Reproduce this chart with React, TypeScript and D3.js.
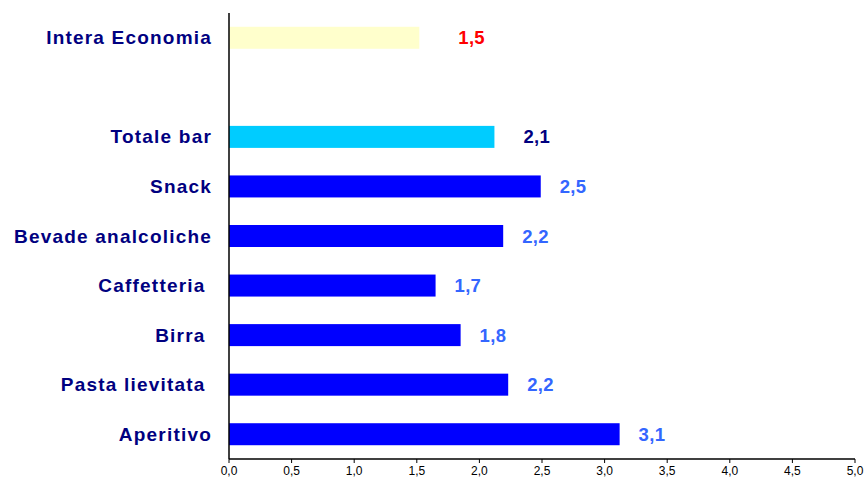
import React from "react";
import * as d3 from "d3";

// Categories top to bottom; the empty slot is the gap under "Intera Economia"
const categories = [
  "Intera Economia",
  "",
  "Totale bar",
  "Snack",
  "Bevade analcoliche",
  "Caffetteria ",
  "Birra ",
  "Pasta lievitata ",
  "Aperitivo",
];

// Bar lengths (same order, null for the gap)
const values = [1.52, null, 2.12, 2.49, 2.19, 1.65, 1.85, 2.23, 3.12];

// Data labels as printed on the chart
const valueLabels = ["1,5", "", "2,1", "2,5", "2,2", "1,7", "1,8", "2,2", "3,1"];

// Bar kind: economy, total, item
const kinds = ["economy", "", "total", "item", "item", "item", "item", "item", "item"];

const xTicks = [0, 0.5, 1, 1.5, 2, 2.5, 3, 3.5, 4, 4.5, 5];

const barFill: Record<string, string> = {
  economy: "#FFFFCC",
  total: "#00CCFF",
  item: "#0000FF",
};

const labelFill: Record<string, string> = {
  economy: "#FF0000",
  total: "#000080",
  item: "#3366FF",
};

// the data labels were nudged by hand in the original, a bit more for the top two
const labelGap: Record<string, number> = {
  economy: 39,
  total: 29,
  item: 19,
};

export default function App() {
  const width = 867;
  const height = 484;
  const margin = { top: 13, right: 12, bottom: 25, left: 229 };

  const x = d3
    .scaleLinear()
    .domain([0, 5])
    .range([margin.left, width - margin.right]);

  const y = d3
    .scaleBand()
    .domain(categories.map((c, i) => String(i)))
    .range([margin.top, height - margin.bottom])
    .paddingInner(0.556)
    .paddingOuter(0.278);

  const fmt = (v: number) => d3.format(".1f")(v).replace(".", ",");
  const font = "'Liberation Sans', Arial, Helvetica, sans-serif";
  const axisY = height - margin.bottom;

  return (
    <svg
      width={width}
      height={height}
      style={{ position: "absolute", left: 0, top: 0, background: "#fff" }}
      fontFamily={font}
    >
      {/* bars */}
      {values.map((v, i) =>
        v == null ? null : (
          <rect
            key={"bar" + i}
            x={x(0)}
            y={y(String(i))}
            width={x(v) - x(0)}
            height={y.bandwidth()}
            fill={barFill[kinds[i]]}
          />
        )
      )}

      {/* data labels */}
      {values.map((v, i) =>
        v == null ? null : (
          <text
            key={"val" + i}
            x={x(v) + labelGap[kinds[i]]}
            y={(y(String(i)) as number) + y.bandwidth() / 2 + 6.5}
            fontSize={18.5}
            fontWeight="bold"
            letterSpacing={0.3}
            fill={labelFill[kinds[i]]}
          >
            {valueLabels[i]}
          </text>
        )
      )}

      {/* category labels */}
      {categories.map((c, i) => (
        <text
          key={"cat" + i}
          x={212}
          y={(y(String(i)) as number) + y.bandwidth() / 2 + 6.5}
          textAnchor="end"
          fontSize={19}
          fontWeight="bold"
          letterSpacing={1.2}
          fill="#000080"
          style={{ whiteSpace: "pre" }}
        >
          {c}
        </text>
      ))}

      {/* vertical axis line */}
      <line x1={x(0)} x2={x(0)} y1={margin.top} y2={axisY} stroke="#000" strokeWidth={1.5} />

      {/* horizontal axis */}
      <line x1={x(0)} x2={x(5)} y1={axisY} y2={axisY} stroke="#000" strokeWidth={1.5} />
      {xTicks.map((t) => (
        <g key={"t" + t}>
          <line x1={x(t)} x2={x(t)} y1={axisY} y2={axisY + 4} stroke="#000" strokeWidth={1} />
          <text x={x(t)} y={axisY + 16} textAnchor="middle" fontSize={12} fill="#000">
            {fmt(t)}
          </text>
        </g>
      ))}
    </svg>
  );
}
